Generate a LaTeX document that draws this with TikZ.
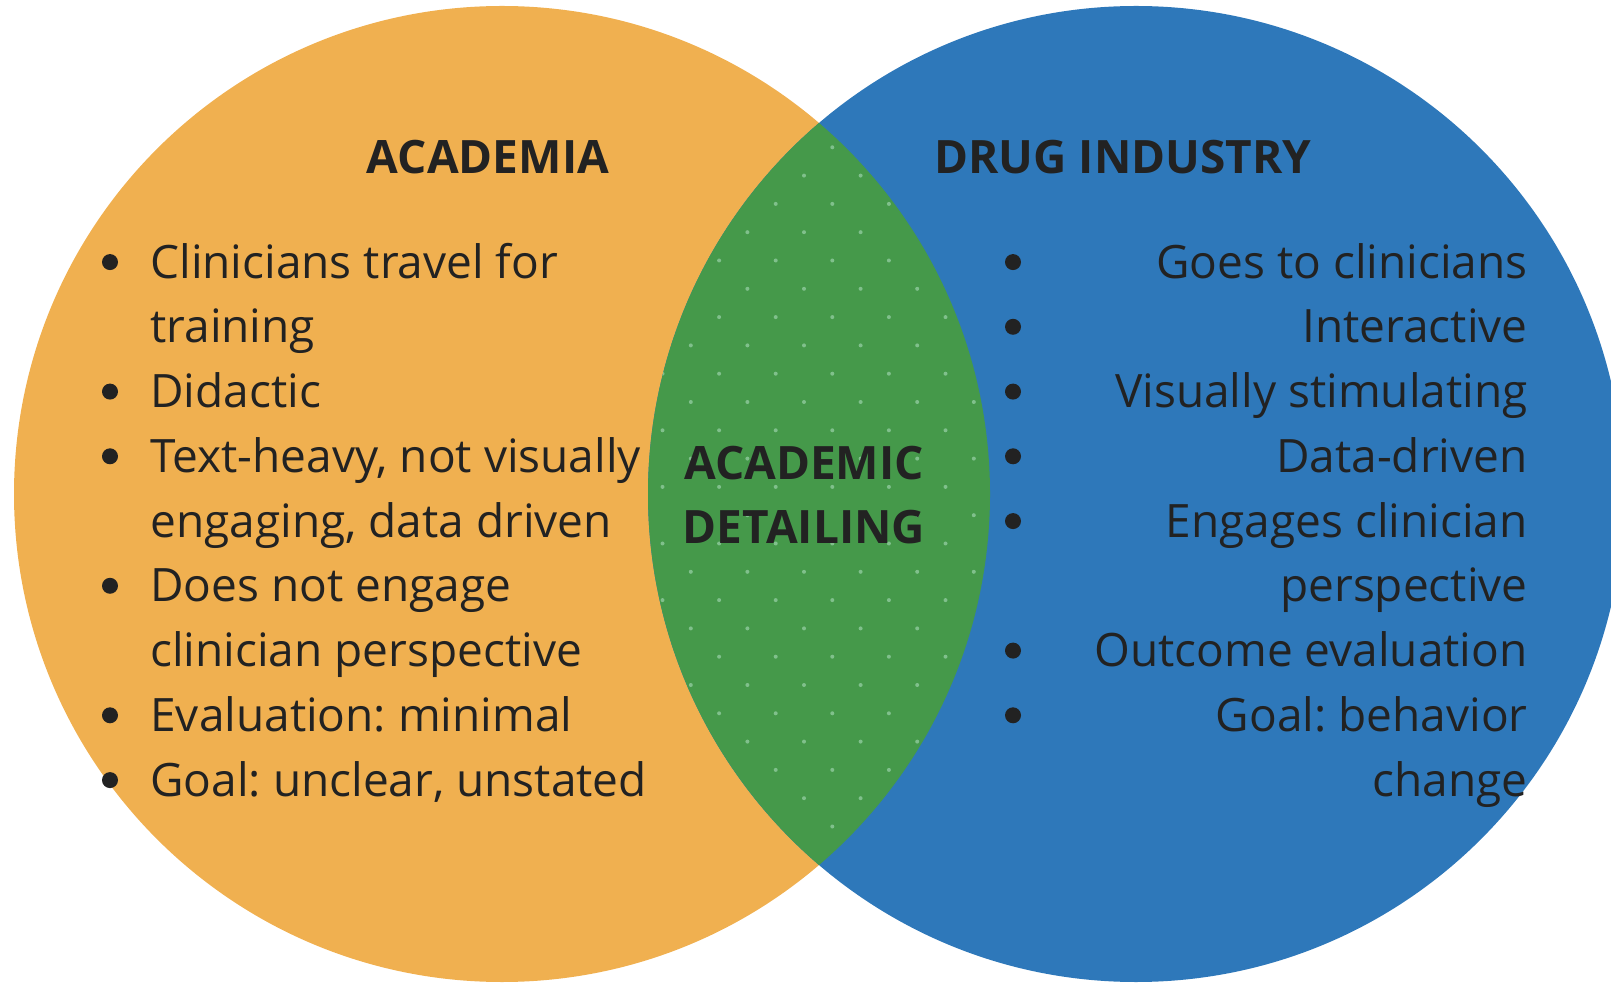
\documentclass[tikz,border=0pt]{standalone}
\usepackage{fontspec}
\setmainfont{Open Sans}
\frenchspacing
\definecolor{orangeC}{HTML}{F0B050}
\definecolor{blueC}{HTML}{2E78BA}
\definecolor{greenC}{HTML}{45994A}
\definecolor{dotC}{HTML}{80C08C}
\definecolor{txt}{HTML}{222222}
\tikzset{
  body/.style={font=\fontsize{23pt}{27pt}\selectfont, text=txt, inner sep=0pt, anchor=base west},
  bodyR/.style={font=\fontsize{23pt}{27pt}\selectfont, text=txt, inner sep=0pt, anchor=base east},
  head/.style={font=\fontsize{23pt}{27pt}\selectfont\bfseries, text=txt, inner sep=0pt, anchor=base},
  bul/.style={fill=txt}
}
\begin{document}
\begin{tikzpicture}[x=0.5pt,y=-0.5pt]
\useasboundingbox (0,0) rectangle (1611,988);
\clip (0,0) rectangle (1611,988);
\fill[orangeC] (502,494) circle (244pt);
\fill[blueC] (1136,494) circle (244pt);
\begin{scope}
  \clip (502,494) circle (244pt);
  \fill[greenC] (1136,494) circle (244pt);
  \clip (1136,494) circle (244pt);
  \foreach \k in {-5,...,30}{
    \pgfmathsetmacro{\yy}{147.3+\k*28.3}
    \pgfmathsetmacro{\off}{mod(\k+100,2)*28.3}
    \foreach \j in {-8,...,8}{
      \fill[dotC] ({832.3+\off+\j*56.6},\yy) circle (1pt);
    }
  }
\end{scope}
% headings
\node[head] (hA) at (488,174) {ACADEMIA};
\node[head] (hD) at (1123,174) {DRUG INDUSTRY};
\node[head] (c1) at (804,480) {ACADEMIC};
\node[head] (c2) at (804,544) {DETAILING};
% left list
\node[body] (l1) at (150,278.2) {Clinicians travel for};
\node[body] (l2) at (150,343.0) {training};
\node[body] (l3) at (150,407.7) {Didactic};
\node[body] (l4) at (150,472.5) {Text-heavy, not visually};
\node[body] (l5) at (150,537.2) {engaging, data driven};
\node[body] (l6) at (150,602.0) {Does not engage};
\node[body] (l7) at (150,666.7) {clinician perspective};
\node[body] (l8) at (150,731.5) {Evaluation: minimal};
\node[body] (l9) at (150,796.2) {Goal: unclear, unstated};
\foreach \y in {262.1,391.6,456.3,585.8,715.3,780.1}{
  \fill[bul] (110,\y) circle (4pt);
}
% right list
\node[bodyR] (r1) at (1528,278.2) {Goes to clinicians};
\node[bodyR] (r2) at (1528,343.0) {Interactive};
\node[bodyR] (r3) at (1528,407.7) {Visually stimulating};
\node[bodyR] (r4) at (1528,472.5) {Data-driven};
\node[bodyR] (r5) at (1528,537.2) {Engages clinician};
\node[bodyR] (r6) at (1528,602.0) {perspective};
\node[bodyR] (r7) at (1528,666.7) {Outcome evaluation};
\node[bodyR] (r8) at (1528,731.5) {Goal: behavior};
\node[bodyR] (r9) at (1528,796.2) {change};
\foreach \y in {262.1,326.8,391.6,456.3,521.1,650.6,715.3}{
  \fill[bul] (1013,\y) circle (4pt);
}
\end{tikzpicture}
\end{document}
